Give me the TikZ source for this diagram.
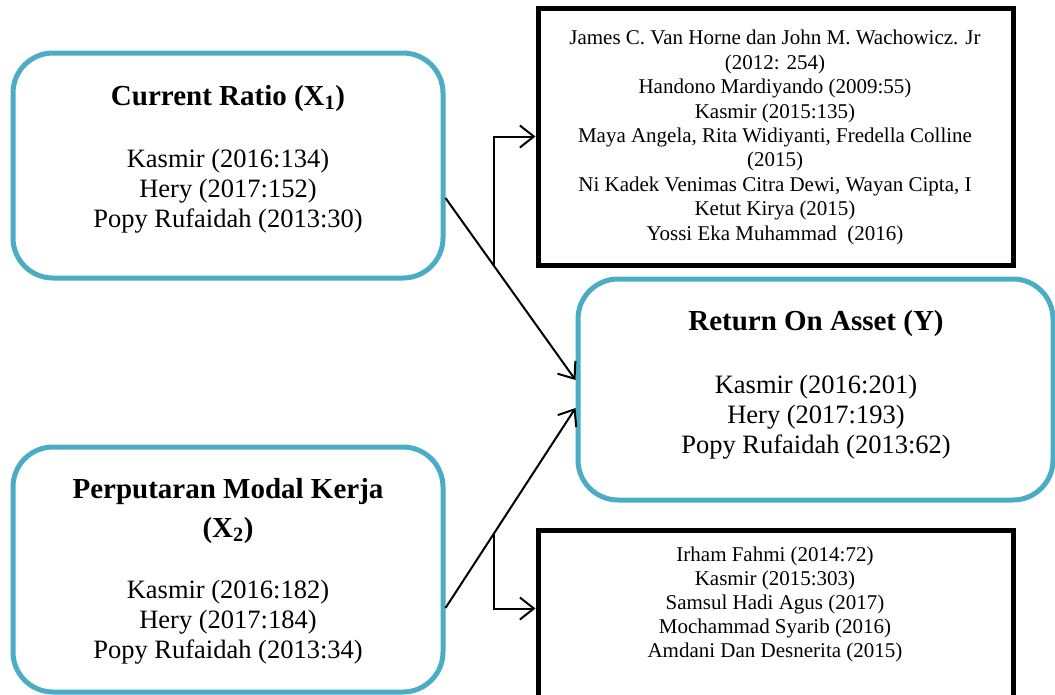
\documentclass[tikz,border=0pt]{standalone}
\usepackage{fontspec}
\setmainfont{Liberation Serif}
\usetikzlibrary{arrows.meta,calc}
\definecolor{tealbox}{HTML}{4BACC6}
\begin{document}
\begin{tikzpicture}[x=1pt,y=-1pt,
  rbox/.style={draw=tealbox, line width=5pt, rounded corners=40pt, inner sep=0pt},
  sbox/.style={draw=black, line width=5pt, inner sep=0pt},
  ttl/.style={font=\fontsize{29}{39}\selectfont\bfseries, align=center, inner sep=0pt, anchor=base},
  body/.style={font=\fontsize{26.5}{30}\selectfont, align=center, inner sep=0pt, anchor=base},
  small/.style={font=\fontsize{21}{24.4}\selectfont, align=center, inner sep=0pt, anchor=base},
  conn/.style={line width=2pt, -{Straight Barb[length=14pt,width=22pt]}}
]
\useasboundingbox (0,0) rectangle (1055,694);
\clip (0,0) rectangle (1055,694);

% boxes
\node[rbox, minimum width=430pt, minimum height=225pt] (x1) at (228,165.5) {};
\node[rbox, minimum width=430pt, minimum height=245pt] (x2) at (228,569.5) {};
\node[rbox, minimum width=475pt, minimum height=221pt] (y) at (815.5,389.5) {};
\node[sbox, minimum width=475pt, minimum height=257pt] (r1) at (775.5,136.5) {};
\node[sbox, minimum width=475pt, minimum height=190pt] (r2) at (775.5,625) {};

% texts (base anchor = baseline of the last line)
\node[ttl] (x1t) at (228,105) {Current Ratio (X\textsubscript{1})};
\node[body] (x1b) at (228,227) {Kasmir (2016:134)\\Hery (2017:152)\\Popy Rufaidah (2013:30)};
\node[ttl] (x2t) at (228,537) {Perputaran Modal Kerja\\(X\textsubscript{2})};
\node[body] (x2b) at (228,658) {Kasmir (2016:182)\\Hery (2017:184)\\Popy Rufaidah (2013:34)};
\node[ttl] (yt) at (816,330) {Return On Asset (Y)};
\node[body] (yb) at (816,453) {Kasmir (2016:201)\\Hery (2017:193)\\Popy Rufaidah (2013:62)};
\node[small] (r1t) at (775,240) {James C. Van Horne dan John M. Wachowicz. Jr\\(2012: 254)\\Handono Mardiyando (2009:55)\\Kasmir (2015:135)\\Maya Angela, Rita Widiyanti, Fredella Colline\\(2015)\\Ni Kadek Venimas Citra Dewi, Wayan Cipta, I\\Ketut Kirya (2015)\\Yossi Eka Muhammad~ (2016)};
\node[small, font=\fontsize{21}{23.8}\selectfont] (r2t) at (775,657) {Irham Fahmi (2014:72)\\Kasmir (2015:303)\\Samsul Hadi Agus (2017)\\Mochammad Syarib (2016)\\Amdani Dan Desnerita (2015)};

% connector points
\coordinate (a1) at ($(x1.east)+(0,32.5)$);
\coordinate (b1) at ($(y.west)+(0,-9.5)$);
\coordinate (a2) at ($(x2.east)+(0,38.5)$);
\coordinate (b2) at ($(y.west)+(0,18.5)$);
\coordinate (e1) at ($(a1)!0.375!(b1)$);
\coordinate (e2) at ($(a2)!0.375!(b2)$);
\coordinate (k2) at ($(r2.north west)+(0,81)$);

\draw[conn] (a1) -- (b1);
\draw[conn] (a2) -- (b2);
\draw[conn] (e1) |- (r1.west);
\draw[conn] (e2) |- (k2);
\end{tikzpicture}
\end{document}
